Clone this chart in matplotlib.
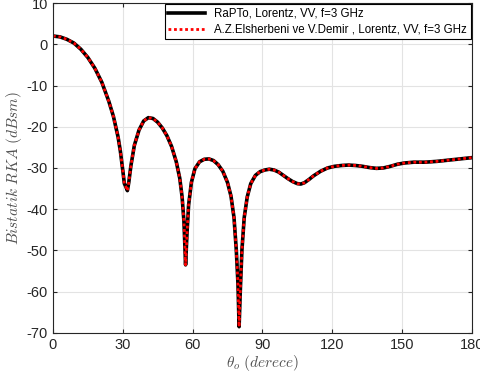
import matplotlib
matplotlib.use("Agg")
import matplotlib.pyplot as plt

plt.rcParams['font.family'] = ['Liberation Sans', 'DejaVu Sans']
plt.rcParams['mathtext.fontset'] = 'cm'
plt.rcParams['axes.unicode_minus'] = False

# aci (derece) ve bistatik RKA (dBsm) degerleri
theta = [0, 3, 6, 9, 12, 15, 18, 21, 24, 26, 28, 29, 30, 30.7, 31.3, 32, 32.6, 33.5,
         35, 37, 39, 41, 43, 45, 47, 49, 51, 53, 54.5, 55.5, 56.3, 57, 57.6, 58.3, 59.5,
         61, 63, 65, 67, 69, 71, 73, 75, 76.5, 77.8, 78.8, 79.5, 80, 80.5, 81.2, 82.2,
         83.5, 85, 87, 89, 91, 93, 95, 97, 99, 101, 103, 105, 106.5, 108, 110, 112, 115,
         118, 121, 124, 127, 130, 133, 136, 139, 142, 145, 148, 151, 155, 160, 165, 170,
         175, 180]
rcs = [2.0, 1.8, 1.2, 0.3, -1.2, -3.2, -5.8, -9.2, -13.8, -17.5, -22.5, -26, -30.5,
       -33.8, -34.5, -35.5, -33.5, -29.5, -24.5, -20.8, -18.6, -17.8, -18.0, -18.9,
       -20.3, -22.2, -24.8, -28.5, -32.5, -37, -43, -53.5, -46, -39, -33.5, -30.2,
       -28.5, -27.9, -27.8, -28.2, -29.2, -30.8, -33.5, -36.8, -42, -50, -58, -68.5,
       -60, -50, -42, -37, -33.8, -31.8, -30.9, -30.5, -30.3, -30.5, -31.0, -31.8,
       -32.6, -33.3, -33.8, -33.9, -33.6, -32.8, -31.9, -30.8, -30.0, -29.6, -29.4,
       -29.3, -29.4, -29.6, -29.9, -30.1, -30.0, -29.6, -29.1, -28.8, -28.6, -28.6,
       -28.4, -28.1, -27.8, -27.5]

fig = plt.figure(figsize=(4.81, 3.80), dpi=100)
ax = fig.add_axes([0.110, 0.124, 0.871, 0.868])

ax.plot(theta, rcs, color='black', lw=2.6, label='RaPTo, Lorentz, VV, f=3 GHz')
ax.plot(theta, rcs, color='red', lw=2.0, ls=(0, (1, 1)),
        label='A.Z.Elsherbeni ve V.Demir , Lorentz, VV, f=3 GHz')

ax.set_xlim(0, 180)
ax.set_ylim(-70, 10)
ax.set_xticks(range(0, 181, 30))
ax.set_yticks(range(-70, 11, 10))
ax.grid(True, color='#e3e3e3', lw=0.8)
ax.set_axisbelow(True)
for s in ax.spines.values():
    s.set_color('#262626')
    s.set_linewidth(0.8)
ax.tick_params(labelsize=10.5, colors='#262626', direction='in', length=3, top=True, right=True)

ax.set_xlabel(r'$\theta_o\ (derece)$', fontsize=11, color='#505050', labelpad=1)
ax.set_ylabel(r'$Bistatik\ RKA\ (dBsm)$', fontsize=11, color='#505050', labelpad=2)

leg = ax.legend(loc='upper right', fontsize=8.3, fancybox=False, framealpha=1,
                edgecolor='black', borderaxespad=0.1, handlelength=3.2,
                borderpad=0.3, labelspacing=0.35)
leg.get_frame().set_linewidth(0.8)

fig.savefig('out.png', dpi=100)
